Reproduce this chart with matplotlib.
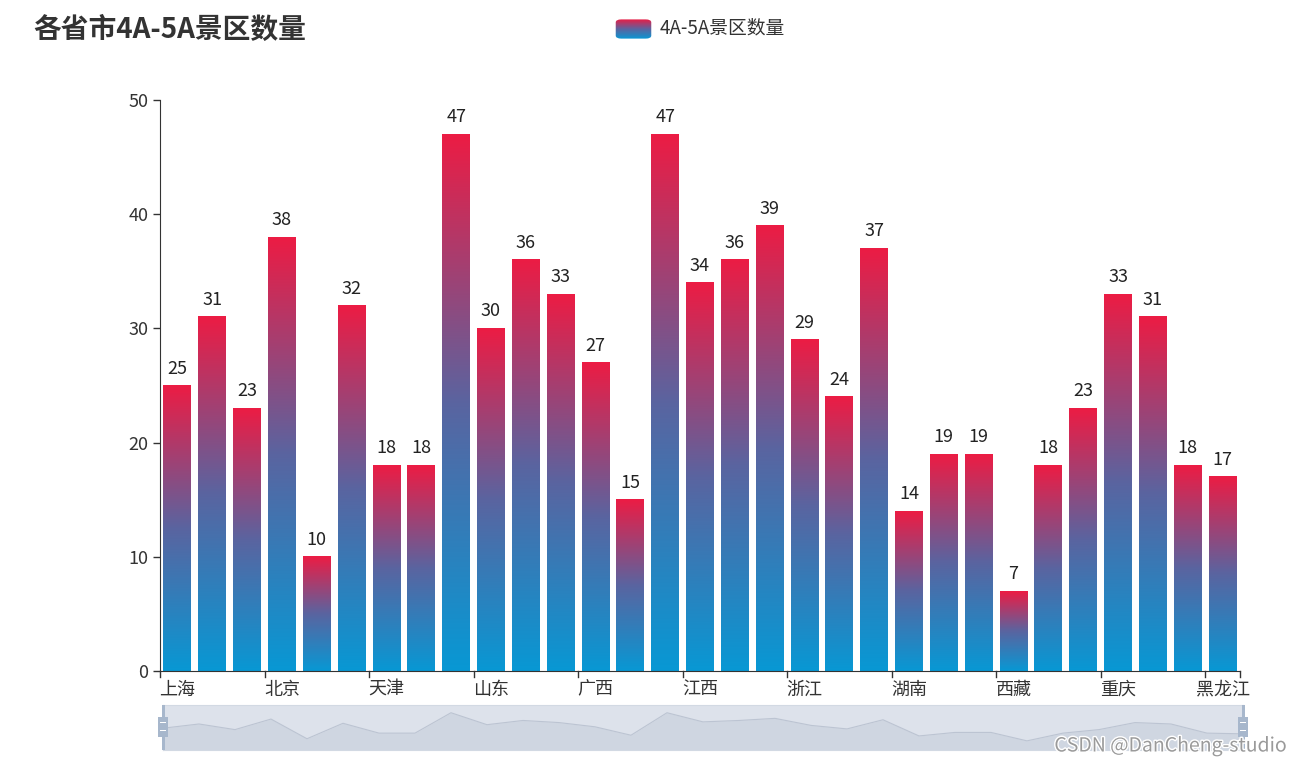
import numpy as np
import matplotlib
matplotlib.use('Agg')
import matplotlib.pyplot as plt
from matplotlib.colors import LinearSegmentedColormap
from matplotlib.patches import FancyBboxPatch, Rectangle
import matplotlib.patheffects as pe

plt.rcParams['font.family'] = ['Noto Sans CJK SC', 'DejaVu Sans']

provinces = ['上海', '云南', '内蒙古', '北京', '吉林', '四川', '天津', '宁夏', '安徽', '山东',
             '山西', '广东', '广西', '新疆', '江苏', '江西', '河北', '河南', '浙江', '海南',
             '湖北', '湖南', '甘肃', '福建', '西藏', '贵州', '辽宁', '重庆', '陕西', '青海', '黑龙江']
counts = [25, 31, 23, 38, 10, 32, 18, 18, 47, 30, 36, 33, 27, 15, 47, 34, 36, 39, 29, 24,
          37, 14, 19, 19, 7, 18, 23, 33, 31, 18, 17]
series_name = '4A-5A景区数量'
title = '各省市4A-5A景区数量'

# bottom blue -> top red
cmap = LinearSegmentedColormap.from_list('grad', ['#0898d4', '#5a64a0', '#ec1c44'])
grad = np.linspace(0, 1, 256).reshape(-1, 1)

W, H = 1302, 768
fig = plt.figure(figsize=(W / 100, H / 100), dpi=100)
ax = fig.add_axes([160 / W, 1 - 671 / H, 1080 / W, 571 / H])

n = len(counts)
bw = 0.8
for i, v in enumerate(counts):
    ax.imshow(grad, cmap=cmap, origin='lower', aspect='auto',
              extent=(i - bw / 2, i + bw / 2, 0, v), zorder=2)
    ax.text(i, v + 0.7, str(v), ha='center', va='bottom', fontsize=13, color='#222222')

ax.set_xlim(-0.5, n - 0.5)
ax.set_ylim(0, 50)
ax.set_yticks(range(0, 51, 10))
ax.tick_params(axis='y', labelsize=13, colors='#333333', length=5, width=1)
ax.tick_params(axis='x', length=0, labelsize=13, colors='#333333', pad=7)
ax.set_xticks(range(0, n, 3))
ax.set_xticklabels(provinces[::3])
# boundary tick marks
for xb in list(np.arange(-0.5, n, 3)) + [n - 0.5]:
    ax.plot([xb, xb], [0, -0.5], color='#333333', lw=1, clip_on=False, zorder=3)
for s in ['top', 'right']:
    ax.spines[s].set_visible(False)
ax.spines['left'].set_color('#333333')
ax.spines['bottom'].set_color('#333333')

fig.text(33 / W, 1 - 30 / H, title, fontsize=20, fontweight='bold', color='#333333', va='center')

# legend
lax = fig.add_axes([615 / W, 1 - 39 / H, 37 / W, 20 / H])
lax.imshow(grad, cmap=cmap, origin='lower', aspect='auto', extent=(0, 1, 0, 1))
lax.set_xlim(0, 1)
lax.set_ylim(0, 1)
lax.axis('off')
clip = FancyBboxPatch((0.02, 0.02), 0.96, 0.96, boxstyle='round,pad=0,rounding_size=0.15',
                      transform=lax.transAxes, fc='none', ec='none')
lax.add_patch(clip)
lax.images[0].set_clip_path(clip)
fig.text(660 / W, 1 - 28 / H, series_name, fontsize=13.5, color='#333333', va='center')

# data zoom slider
zax = fig.add_axes([163 / W, 1 - 750 / H, 1080 / W, 45 / H])
zax.set_facecolor('#dde2eb')
xs = np.arange(n)
zax.fill_between(xs, -6, counts, color='#cfd6e1', lw=0)
zax.plot(xs, counts, color='#bcc4d2', lw=0.8)
zax.set_xlim(0, n - 1)
zax.set_ylim(-6, 58)
zax.set_xticks([])
zax.set_yticks([])
for s in zax.spines.values():
    s.set_color('#d2d9e3')
for hx in [163, 1243]:
    fig.patches.append(Rectangle(((hx - 1.5) / W, 1 - 750 / H), 3 / W, 45 / H,
                                 transform=fig.transFigure, fc='#a7b7cc', ec='none'))
    fig.patches.append(Rectangle(((hx - 5) / W, 1 - 737 / H), 10 / W, 20 / H,
                                 transform=fig.transFigure, fc='#a7b7cc', ec='none'))
    for yy in [723, 731]:
        fig.patches.append(Rectangle(((hx - 3) / W, 1 - yy / H), 6 / W, 1.5 / H,
                                     transform=fig.transFigure, fc='white', ec='none'))

fig.text(1287 / W, 1 - 746 / H, 'CSDN @DanCheng-studio', fontsize=14, color='#9a9a9a',
         ha='right', va='center', path_effects=[pe.withStroke(linewidth=2, foreground='white')])

fig.savefig('out.png', dpi=100)
